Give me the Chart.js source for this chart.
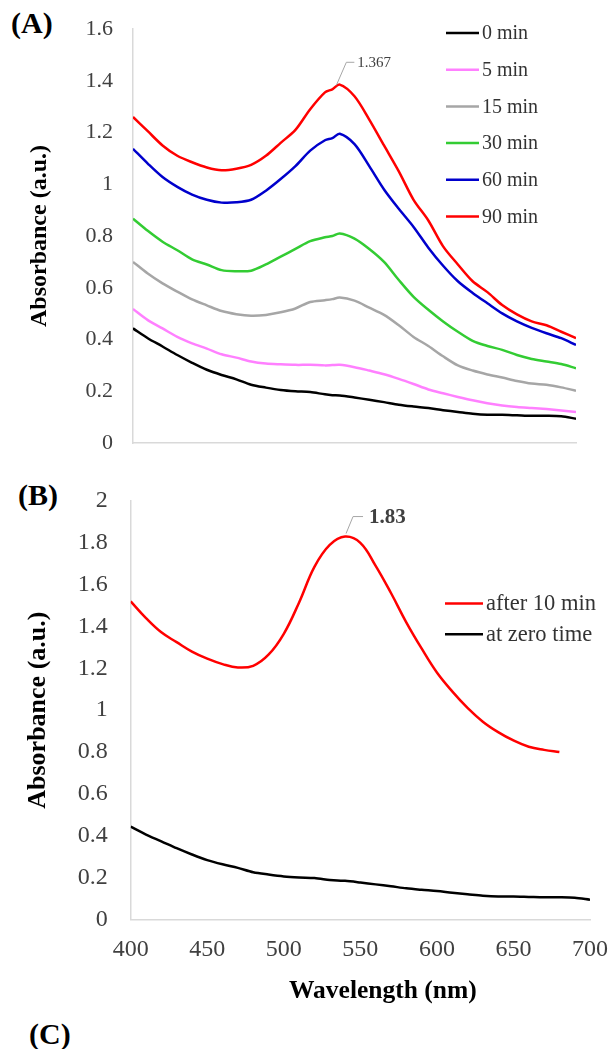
<!DOCTYPE html>
<html>
<head>
<meta charset="utf-8">
<script src="https://cdn.jsdelivr.net/npm/chart.js@4/dist/chart.umd.min.js"></script>
<style>
  html, body { margin: 0; padding: 0; background: #fff; }
  body { width: 610px; height: 1049px; position: relative; overflow: hidden; font-family: "Liberation Serif", "Times New Roman", serif; }
  .panel { position: absolute; font-weight: bold; font-size: 30px; color: #000; line-height: 1; }
  #wrapA { position: absolute; left: 0; top: 0; width: 610px; height: 470px; }
  #wrapB { position: absolute; left: 0; top: 470px; width: 610px; height: 579px; }
  #xTitle { position: absolute; top: 975px; left: 289px; font-weight: bold; font-size: 25.5px; color: #000; white-space: nowrap; }
</style>
</head>
<body>
<div class="panel" style="left:11px; top:8px;">(A)</div>
<div class="panel" style="left:18px; top:480px;">(B)</div>
<div class="panel" style="left:29px; top:1019px;">(C)</div>
<div id="wrapA"><canvas id="chartA" width="610" height="470"></canvas></div>
<div id="wrapB"><canvas id="chartB" width="610" height="579"></canvas></div>
<div id="xTitle">Wavelength (nm)</div>
<script>
// Wavelength grid (nm) of the recorded spectra
const wavelengths = [400, 410, 420, 430, 440, 450, 460, 470, 480, 490, 500, 510, 520, 530, 535, 540,
                     550, 560, 570, 580, 590, 600, 610, 620, 630, 640, 650, 660, 670, 680, 690, 700];

// Panel A: absorbance vs. reaction time
const abs0min  = [0.443, 0.405, 0.373, 0.340, 0.310, 0.283, 0.263, 0.246, 0.225, 0.214, 0.205, 0.200, 0.197, 0.188, 0.185, 0.184,
                  0.176, 0.167, 0.158, 0.148, 0.141, 0.135, 0.127, 0.120, 0.113, 0.109, 0.109, 0.107, 0.105, 0.105, 0.103, 0.094];
const abs5min  = [0.518, 0.475, 0.443, 0.410, 0.385, 0.365, 0.343, 0.330, 0.315, 0.307, 0.304, 0.302, 0.302, 0.300, 0.301, 0.302,
                  0.293, 0.280, 0.266, 0.248, 0.228, 0.207, 0.192, 0.178, 0.165, 0.154, 0.145, 0.139, 0.135, 0.131, 0.126, 0.120];
const abs15min = [0.700, 0.655, 0.617, 0.585, 0.555, 0.532, 0.510, 0.498, 0.492, 0.495, 0.505, 0.520, 0.545, 0.552, 0.556, 0.562,
                  0.550, 0.523, 0.495, 0.455, 0.410, 0.375, 0.335, 0.300, 0.280, 0.265, 0.253, 0.240, 0.230, 0.225, 0.215, 0.202];
const abs30min = [0.867, 0.820, 0.778, 0.745, 0.710, 0.690, 0.668, 0.664, 0.666, 0.690, 0.720, 0.750, 0.780, 0.795, 0.800, 0.810,
                  0.790, 0.750, 0.700, 0.630, 0.565, 0.515, 0.470, 0.430, 0.395, 0.375, 0.360, 0.340, 0.325, 0.315, 0.305, 0.289];
const abs60min = [1.137, 1.080, 1.028, 0.990, 0.960, 0.940, 0.929, 0.930, 0.940, 0.975, 1.020, 1.070, 1.130, 1.170, 1.178, 1.195,
                  1.155, 1.070, 0.980, 0.905, 0.835, 0.755, 0.685, 0.625, 0.580, 0.540, 0.501, 0.470, 0.445, 0.424, 0.405, 0.379];
const abs90min = [1.260, 1.205, 1.150, 1.110, 1.085, 1.065, 1.054, 1.060, 1.075, 1.110, 1.160, 1.210, 1.290, 1.355, 1.367, 1.385,
                  1.340, 1.250, 1.150, 1.050, 0.940, 0.860, 0.760, 0.690, 0.625, 0.583, 0.533, 0.497, 0.470, 0.455, 0.430, 0.405];
const seriesA = ['0 min', '5 min', '15 min', '30 min', '60 min', '90 min'];
const colorsA = ['#000000', '#ff80ff', '#a6a6a6', '#33cc33', '#0000cc', '#ff0000'];
const peakIndexA = 14; // 535 nm on the 90 min curve

// Panel B: spectrum after 10 min (recorded to 680 nm) and at zero time
const wavelengthsB = [400, 410, 420, 430, 440, 450, 460, 470, 480, 490, 500, 510, 520, 530, 540,
                      550, 560, 570, 580, 590, 600, 610, 620, 630, 640, 650, 660, 670, 680];
const absAfter10 = [1.520, 1.440, 1.372, 1.325, 1.280, 1.246, 1.220, 1.204, 1.212, 1.265, 1.365, 1.515, 1.685, 1.790, 1.830,
                    1.800, 1.690, 1.560, 1.420, 1.295, 1.180, 1.090, 1.011, 0.945, 0.895, 0.855, 0.825, 0.810, 0.800];
const absZeroTime = abs0min;
const seriesB = ['after 10 min', 'at zero time'];
const colorsB = ['#ff0000', '#000000'];
const peakIndexB = 14; // 540 nm

// Tick settings
const yTicksA = { min: 0, max: 1.6, step: 0.2 };
const yTicksB = { min: 0, max: 2, step: 0.2 };
const xTicks  = { min: 400, max: 700, step: 50 };

const SERIF = '"Liberation Serif", "Times New Roman", serif';
const TICK_COLOR = '#404040';
const AXIS_COLOR = '#d9d9d9';

function points(xs, ys) { return ys.map((y, i) => ({ x: xs[i], y })); }
function shortNum(v) { return String(Number(v.toFixed(2))); }

// Vertical legend with short line samples
const lineLegend = {
  id: 'lineLegend',
  afterDatasetsDraw(chart, args, opts) {
    const ctx = chart.ctx;
    ctx.save();
    ctx.font = opts.size + 'px ' + SERIF;
    ctx.textBaseline = 'middle';
    ctx.textAlign = 'left';
    chart.data.datasets.forEach((ds, i) => {
      const y = opts.y + i * opts.gap;
      ctx.strokeStyle = ds.borderColor;
      ctx.lineWidth = 2.5;
      ctx.beginPath();
      ctx.moveTo(opts.x0, y);
      ctx.lineTo(opts.x1, y);
      ctx.stroke();
      ctx.fillStyle = '#333';
      ctx.fillText(ds.label, opts.x1 + 3, y + 1);
    });
    ctx.restore();
  }
};

// Data label with a leader line on one point
const peakLabel = {
  id: 'peakLabel',
  afterDatasetsDraw(chart, args, opts) {
    const meta = chart.getDatasetMeta(opts.dataset);
    const pt = meta.data[opts.index];
    const v = chart.data.datasets[opts.dataset].data[opts.index].y;
    const ctx = chart.ctx;
    ctx.save();
    ctx.strokeStyle = '#a6a6a6';
    ctx.lineWidth = 1;
    ctx.beginPath();
    ctx.moveTo(pt.x + opts.start[0], pt.y + opts.start[1]);
    ctx.lineTo(pt.x + opts.knee[0], pt.y + opts.knee[1]);
    ctx.lineTo(pt.x + opts.end, pt.y + opts.knee[1]);
    ctx.stroke();
    ctx.font = opts.font;
    ctx.fillStyle = opts.color;
    ctx.textBaseline = 'middle';
    ctx.textAlign = 'left';
    ctx.fillText(String(v), pt.x + opts.end + opts.gap, pt.y + opts.knee[1] + 1);
    ctx.restore();
  }
};

function yScale(t, width, pad, tickSize, titleSize, titlePad) {
  return {
    min: t.min, max: t.max,
    grid: { display: false, drawTicks: false },
    border: { display: true, color: AXIS_COLOR, width: 1.5 },
    ticks: { stepSize: t.step, padding: pad, color: TICK_COLOR, font: { family: SERIF, size: tickSize },
             callback: shortNum },
    title: { display: true, text: 'Absorbance (a.u.)', color: '#000',
             font: { family: SERIF, size: titleSize, weight: 'bold' }, padding: { top: titlePad, bottom: 0 } },
    afterFit(s) { s.width = width; s.paddingTop = 0; s.paddingBottom = 0; }
  };
}

function xScale(showTicks, height, tickSize, pad) {
  return {
    type: 'linear', min: xTicks.min, max: xTicks.max,
    grid: { display: false, drawTicks: false },
    border: { display: true, color: AXIS_COLOR, width: 1.5 },
    ticks: { display: showTicks, stepSize: xTicks.step, padding: pad, color: TICK_COLOR, maxRotation: 0,
             font: { family: SERIF, size: tickSize } },
    afterFit(s) { s.height = height; s.paddingLeft = 0; s.paddingRight = 0; }
  };
}

// Panel A
new Chart(document.getElementById('chartA'), {
  type: 'line',
  data: {
    datasets: seriesA.map((name, i) => ({
      label: name,
      data: points(wavelengths, [abs0min, abs5min, abs15min, abs30min, abs60min, abs90min][i]),
      borderColor: colorsA[i],
      borderWidth: 2.5,
      pointRadius: 0,
      tension: 0.3,
      fill: false
    }))
  },
  options: {
    responsive: false,
    animation: false,
    layout: { padding: { top: 29, right: 34, left: 0, bottom: 0 } },
    plugins: {
      legend: { display: false },
      tooltip: { enabled: false },
      lineLegend: { x0: 446, x1: 479, y: 33, gap: 36.7, size: 20 },
      peakLabel: { dataset: 5, index: peakIndexA, start: [4, -4], knee: [14, -27], end: 22, gap: 3,
                   font: '15px ' + SERIF, color: '#404040' }
    },
    scales: {
      x: xScale(false, 27, 20, 0),
      y: yScale(yTicksA, 133, 20, 22, 24, 25)
    }
  },
  plugins: [lineLegend, peakLabel]
});

// Panel B
new Chart(document.getElementById('chartB'), {
  type: 'line',
  data: {
    datasets: [
      { label: seriesB[0], data: points(wavelengthsB, absAfter10), borderColor: colorsB[0],
        borderWidth: 2.5, pointRadius: 0, tension: 0.4, fill: false },
      { label: seriesB[1], data: points(wavelengths, absZeroTime), borderColor: colorsB[1],
        borderWidth: 2.5, pointRadius: 0, tension: 0.3, fill: false }
    ]
  },
  options: {
    responsive: false,
    animation: false,
    layout: { padding: { top: 31, right: 20, left: 0, bottom: 70 } },
    plugins: {
      legend: { display: false },
      tooltip: { enabled: false },
      lineLegend: { x0: 445, x1: 483, y: 133.5, gap: 30.7, size: 22.5 },
      peakLabel: { dataset: 0, index: peakIndexB, start: [1, -3], knee: [8, -20], end: 18, gap: 6,
                   font: 'bold 21px ' + SERIF, color: '#404040' }
    },
    scales: {
      x: xScale(true, 59.7, 24, 16),
      y: yScale(yTicksB, 130.7, 23, 24, 26, 23)
    }
  },
  plugins: [lineLegend, peakLabel]
});
</script>
</body>
</html>
